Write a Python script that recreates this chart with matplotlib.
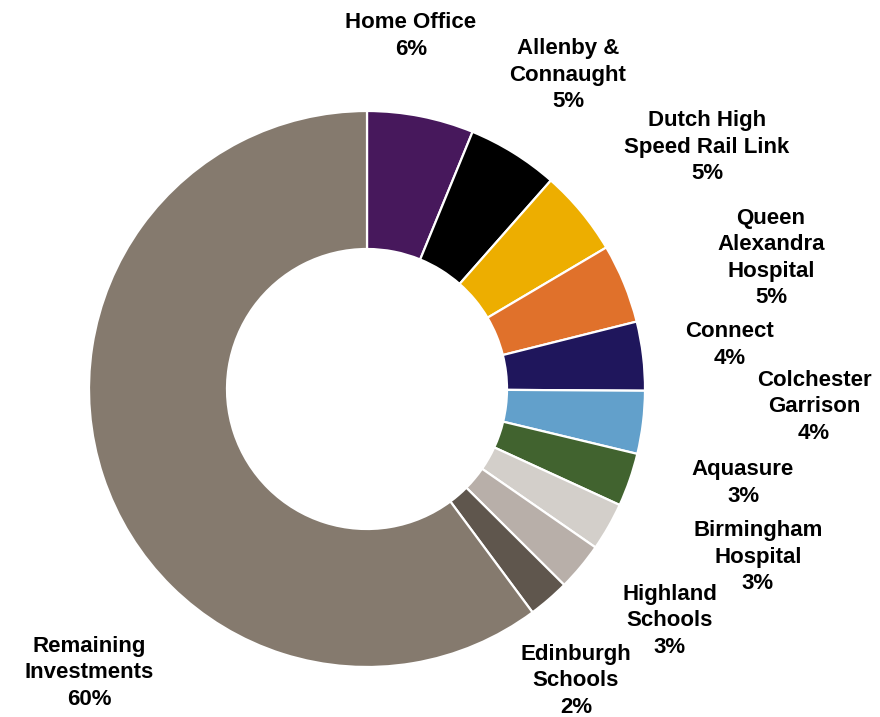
import numpy as np
import matplotlib.pyplot as plt

plt.rcParams['font.family'] = ['Liberation Sans', 'DejaVu Sans']

## portfolio split (clockwise from 12 o'clock)
names = ['Home Office', 'Allenby &\nConnaught', 'Dutch High\nSpeed Rail Link',
         'Queen\nAlexandra\nHospital', 'Connect', 'Colchester\nGarrison',
         'Aquasure', 'Birmingham\nHospital', 'Highland\nSchools',
         'Edinburgh\nSchools', 'Remaining\nInvestments']
shares = [6.2, 5.3, 5.0, 4.6, 4.0, 3.65, 3.1, 2.8, 2.8, 2.4, 60.15]
pct_labels = ['6%', '5%', '5%', '5%', '4%', '4%', '3%', '3%', '3%', '2%', '60%']

colours = ['#47185c', '#000000', '#edae00', '#e0712b', '#1f165c', '#62a0cb',
           '#41632f', '#d3cfca', '#b8afa9', '#5f564d', '#857a6e']

## label centres in pixel space (x, y from top)
label_pos = [(411, 36), (568, 75), (707, 147), (771, 258), (730, 345),
             (814, 407), (743, 483), (758, 557), (670, 621), (576, 681),
             (89, 673)]

fig = plt.figure(figsize=(8.8, 7.17), dpi=100)
ax = fig.add_axes([0, 0, 1, 1])

ax.pie(shares, colors=colours, startangle=90, counterclock=False,
       center=(367, -389), radius=278,
       wedgeprops=dict(width=138, edgecolor='white', linewidth=1.6))

for name, pct, (x, y) in zip(names, pct_labels, label_pos):
    ax.text(x, -y, name + '\n' + pct, ha='center', va='center',
            fontsize=16, fontweight='bold', linespacing=1.35)

ax.set_xlim(0, 880)
ax.set_ylim(-717, 0)
ax.set_aspect('equal')
ax.axis('off')

plt.savefig('out.png', dpi=100)
plt.close()
